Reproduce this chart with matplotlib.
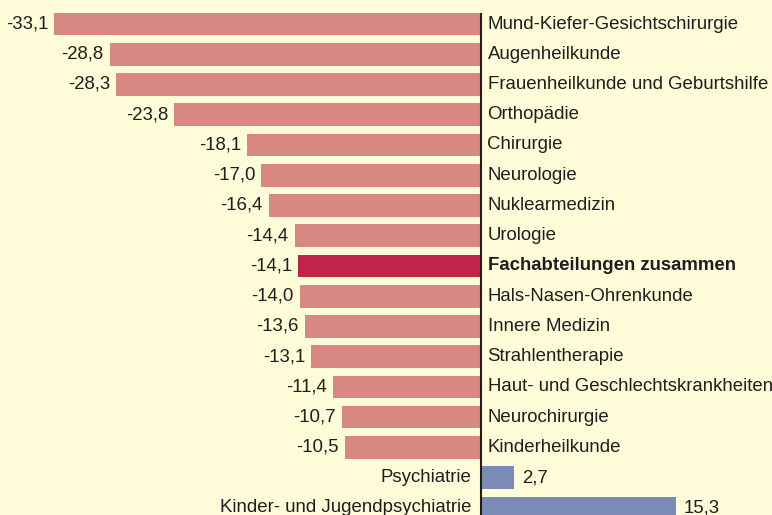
import matplotlib
matplotlib.use("Agg")
import matplotlib.pyplot as plt

categories = [
    "Mund-Kiefer-Gesichtschirurgie", "Augenheilkunde", "Frauenheilkunde und Geburtshilfe",
    "Orthopädie", "Chirurgie", "Neurologie", "Nuklearmedizin", "Urologie",
    "Fachabteilungen zusammen", "Hals-Nasen-Ohrenkunde", "Innere Medizin",
    "Strahlentherapie", "Haut- und Geschlechtskrankheiten", "Neurochirurgie",
    "Kinderheilkunde", "Psychiatrie", "Kinder- und Jugendpsychiatrie",
]
values = [-33.1, -28.8, -28.3, -23.8, -18.1, -17.0, -16.4, -14.4, -14.1,
          -14.0, -13.6, -13.1, -11.4, -10.7, -10.5, 2.7, 15.3]
highlight = "Fachabteilungen zusammen"

bg = "#FFFCD9"
c_neg = "#D98782"
c_hi = "#C1234A"
c_pos = "#7B8BB5"
txt = "#1E1E1E"

plt.rcParams['font.family'] = ['Liberation Sans', 'DejaVu Sans']

fig = plt.figure(figsize=(7.72, 5.15), dpi=100, facecolor=bg)
ax = fig.add_axes([0, 0, 1, 1])
ax.set_facecolor(bg)

ys = list(range(len(categories)))
colors = [c_hi if c == highlight else (c_pos if v > 0 else c_neg) for c, v in zip(categories, values)]
bh = 0.75
ax.barh(ys, values, height=bh, color=colors, zorder=2)

px = 12.84  # pixels per unit
x0 = 479.5
rs = 30.24
ax.set_xlim(-x0 / px, (772 - x0) / px)
ax.set_ylim((515 - 24) / rs, -24 / rs)

ax.plot([0.08, 0.08], [-bh / 2, 20], color="#1E1E1E", lw=1.5, zorder=3, solid_capstyle="butt")

off_v = 6 / px
off_c = 8 / px
fs = 13.4
for y, c, v in zip(ys, categories, values):
    s = f"{v:.1f}".replace(".", ",")
    w = "bold" if c == highlight else "normal"
    if v < 0:
        ax.text(v - off_v, y, s, ha="right", va="center", fontsize=fs, color=txt)
        ax.text(off_c, y, c, ha="left", va="center", fontsize=fs, color=txt, fontweight=w)
    else:
        ax.text(v + off_c, y, s, ha="left", va="center", fontsize=fs, color=txt)
        ax.text(-off_c, y, c, ha="right", va="center", fontsize=fs, color=txt, fontweight=w)

ax.axis("off")
fig.savefig("out.png", dpi=100, facecolor=bg)
